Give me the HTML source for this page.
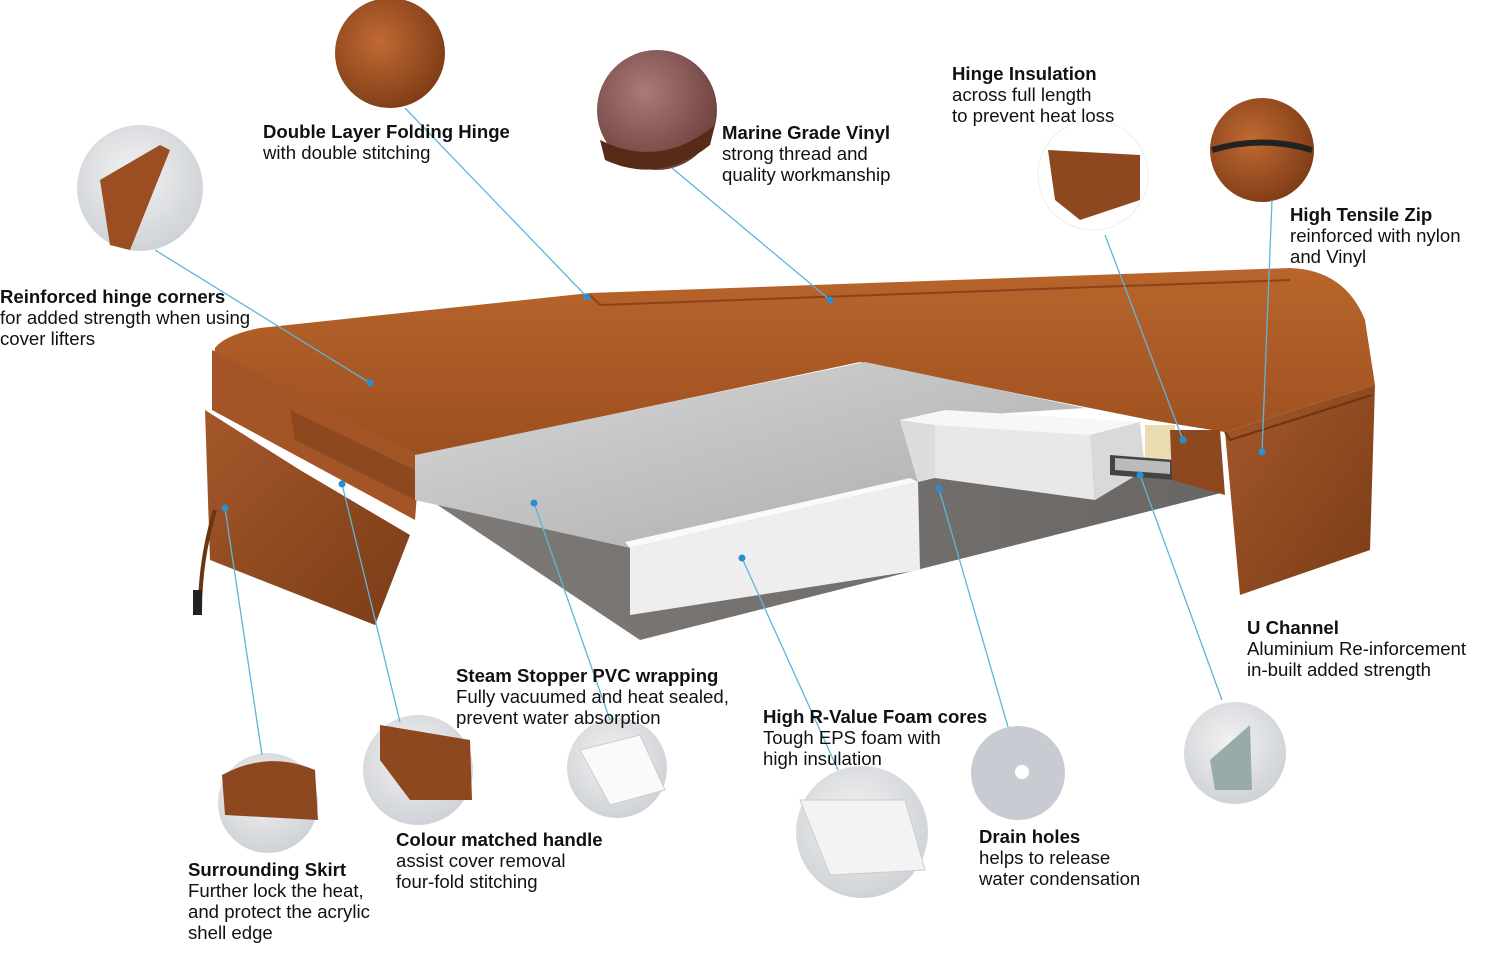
<!DOCTYPE html>
<html><head><meta charset="utf-8">
<style>
html,body{margin:0;padding:0;background:#fff;}
svg{display:block;font-family:"Liberation Sans",Arial,sans-serif;}
.t{font-size:18.6px;fill:#111;}
.b{font-weight:bold;}
.l{stroke:#5fb4db;stroke-width:1.3;fill:none;}
.d{fill:#2a8fd0;}
</style></head><body>
<svg width="1500" height="977" viewBox="0 0 1500 977" xmlns="http://www.w3.org/2000/svg">
<defs>
<linearGradient id="br" x1="0" y1="0" x2="0" y2="1"><stop offset="0" stop-color="#b9652c"/><stop offset="1" stop-color="#9c4f1f"/></linearGradient>
<linearGradient id="br2" x1="0" y1="0" x2="1" y2="1"><stop offset="0" stop-color="#a5582a"/><stop offset="1" stop-color="#7a3c17"/></linearGradient>
<linearGradient id="gr" x1="0" y1="0" x2="1" y2="1"><stop offset="0" stop-color="#d8d8d8"/><stop offset="1" stop-color="#a9a9a9"/></linearGradient>
<linearGradient id="bs" x1="0" y1="0" x2="1" y2="0"><stop offset="0" stop-color="#7d7a78"/><stop offset="1" stop-color="#6a6664"/></linearGradient>
<radialGradient id="cb" cx="0.4" cy="0.4" r="0.7"><stop offset="0" stop-color="#c06a33"/><stop offset="1" stop-color="#7a3814"/></radialGradient>
<radialGradient id="cm" cx="0.4" cy="0.35" r="0.7"><stop offset="0" stop-color="#a87a78"/><stop offset="1" stop-color="#6b3e3a"/></radialGradient>
<radialGradient id="cg" cx="0.45" cy="0.4" r="0.7"><stop offset="0" stop-color="#f2f2f2"/><stop offset="1" stop-color="#c9cdd2"/></radialGradient>
</defs>

<path d="M215,348 Q225,335 260,328 L590,293 L1290,268 Q1345,270 1365,320 L1375,385 L1225,432 L1150,420 L860,362 L420,455 L212,375 Z" fill="url(#br)"/>
<path d="M590,295 L600,305 L1290,280" stroke="#8a4219" stroke-width="2" fill="none"/>
<path d="M212,350 L212,410 L415,520 L420,455 Z" fill="#a35527"/>
<path d="M290,410 L415,470 L415,500 L295,440 Z" fill="#8e4820"/>
<path d="M205,410 L210,560 L375,625 L410,535 L300,470 Z" fill="url(#br2)"/>
<path d="M215,510 Q200,560 200,610" stroke="#6b3412" stroke-width="4" fill="none"/>
<rect x="193" y="590" width="9" height="25" fill="#222"/>
<path d="M415,490 L640,640 L1225,492 L1180,470 L935,470 L920,480 L630,540 L415,490 Z" fill="url(#bs)"/>
<path d="M415,455 L865,362 L1085,408 L900,420 L918,482 L630,548 L415,500 Z" fill="url(#gr)"/>
<path d="M630,548 L918,482 L920,570 L630,615 Z" fill="#eeeeee"/>
<path d="M630,548 L918,482 L910,478 L625,542 Z" fill="#fafafa"/>
<path d="M900,420 L945,410 L1140,422 L1090,435 L935,425 Z" fill="#f7f7f7"/>
<path d="M935,425 L935,478 L1095,500 L1090,435 Z" fill="#e8e8e8"/>
<path d="M1090,435 L1095,500 L1145,470 L1140,422 Z" fill="#d9d9d9"/>
<path d="M900,420 L935,425 L935,478 L918,482 Z" fill="#dcdcdc"/>
<rect x="1145" y="425" width="30" height="40" fill="#e9dcb0"/>
<path d="M1110,455 L1175,460 L1175,480 L1110,475 Z" fill="#444"/>
<path d="M1115,458 L1170,462 L1170,474 L1115,470 Z" fill="#bbb"/>
<path d="M1170,430 L1220,430 L1225,495 L1172,480 Z" fill="#8e4820"/>
<path d="M1225,432 L1375,385 L1370,550 L1240,595 Z" fill="url(#br2)"/>
<path d="M1225,432 L1230,440 L1372,395" stroke="#6b3412" stroke-width="2" fill="none"/>

<circle cx="390" cy="53" r="55" fill="url(#cb)"/>
<circle cx="140" cy="188" r="63" fill="url(#cg)"/>
<path d="M100,180 L160,145 L170,150 L130,250 L110,245 Z" fill="#9a4e22"/>
<circle cx="657" cy="110" r="60" fill="url(#cm)"/>
<path d="M600,140 Q660,170 715,125 L710,145 Q660,185 605,160 Z" fill="#5a2a18"/>
<circle cx="1093" cy="175" r="55" fill="#fff" stroke="#eee"/>
<path d="M1048,150 L1140,155 L1140,200 L1080,220 L1055,200 Z" fill="#8e4820"/>
<circle cx="1262" cy="150" r="52" fill="url(#cb)"/>
<path d="M1212,150 Q1262,135 1312,150" stroke="#222" stroke-width="6" fill="none"/>
<circle cx="268" cy="803" r="50" fill="url(#cg)"/>
<path d="M222,775 Q268,750 315,770 L318,820 L225,815 Z" fill="#8e4820"/>
<circle cx="418" cy="770" r="55" fill="url(#cg)"/>
<path d="M380,725 L470,740 L472,800 L410,800 L380,760 Z" fill="#8e4820"/>
<circle cx="617" cy="768" r="50" fill="url(#cg)"/>
<path d="M580,750 L640,735 L665,790 L610,805 Z" fill="#fafafa" stroke="#ccc"/>
<circle cx="862" cy="832" r="66" fill="url(#cg)"/>
<path d="M800,800 L905,800 L925,870 L830,875 Z" fill="#f3f3f3" stroke="#ccc"/>
<circle cx="1018" cy="773" r="47" fill="#c8ccd2"/>
<circle cx="1022" cy="772" r="7" fill="#fff"/>
<circle cx="1235" cy="753" r="51" fill="url(#cg)"/>
<path d="M1210,760 L1250,725 L1252,790 L1215,790 Z" fill="#9aa"/>

<g class="l">
<line x1="405" y1="108" x2="587" y2="297"/>
<line x1="155" y1="250" x2="370" y2="383"/>
<line x1="672" y1="168" x2="830" y2="300"/>
<line x1="1105" y1="235" x2="1183" y2="440"/>
<line x1="1272" y1="200" x2="1262" y2="452"/>
<line x1="225" y1="508" x2="262" y2="755"/>
<line x1="342" y1="484" x2="400" y2="722"/>
<line x1="534" y1="503" x2="610" y2="720"/>
<line x1="742" y1="558" x2="838" y2="770"/>
<line x1="939" y1="489" x2="1008" y2="727"/>
<line x1="1140" y1="475" x2="1222" y2="700"/>
</g>
<g class="d">
<circle cx="587" cy="297" r="3.5"/><circle cx="370" cy="383" r="3.5"/><circle cx="830" cy="300" r="3.5"/>
<circle cx="1183" cy="440" r="3.5"/><circle cx="1262" cy="452" r="3.5"/><circle cx="225" cy="508" r="3.5"/>
<circle cx="342" cy="484" r="3.5"/><circle cx="534" cy="503" r="3.5"/><circle cx="742" cy="558" r="3.5"/>
<circle cx="939" cy="489" r="3.5"/><circle cx="1140" cy="475" r="3.5"/>
</g>

<g class="t">
<text x="263" y="138" class="b">Double Layer Folding Hinge</text>
<text x="263" y="159">with double stitching</text>
<text x="722" y="139" class="b">Marine Grade Vinyl</text>
<text x="722" y="160">strong thread and</text>
<text x="722" y="181">quality workmanship</text>
<text x="952" y="80" class="b">Hinge Insulation</text>
<text x="952" y="101">across full length</text>
<text x="952" y="122">to prevent heat loss</text>
<text x="1290" y="221" class="b">High Tensile Zip</text>
<text x="1290" y="242">reinforced with nylon</text>
<text x="1290" y="263">and Vinyl</text>
<text x="0" y="303" class="b">Reinforced hinge corners</text>
<text x="0" y="324">for added strength when using</text>
<text x="0" y="345">cover lifters</text>
<text x="1247" y="634" class="b">U Channel</text>
<text x="1247" y="655">Aluminium Re-inforcement</text>
<text x="1247" y="676">in-built added strength</text>
<text x="456" y="682" class="b">Steam Stopper PVC wrapping</text>
<text x="456" y="703">Fully vacuumed and heat sealed,</text>
<text x="456" y="724">prevent water absorption</text>
<text x="763" y="723" class="b">High R-Value Foam cores</text>
<text x="763" y="744">Tough EPS foam with</text>
<text x="763" y="765">high insulation</text>
<text x="979" y="843" class="b">Drain holes</text>
<text x="979" y="864">helps to release</text>
<text x="979" y="885">water condensation</text>
<text x="396" y="846" class="b">Colour matched handle</text>
<text x="396" y="867">assist cover removal</text>
<text x="396" y="888">four-fold stitching</text>
<text x="188" y="876" class="b">Surrounding Skirt</text>
<text x="188" y="897">Further lock the heat,</text>
<text x="188" y="918">and protect the acrylic</text>
<text x="188" y="939">shell edge</text>
</g>
</svg>
</body></html>
